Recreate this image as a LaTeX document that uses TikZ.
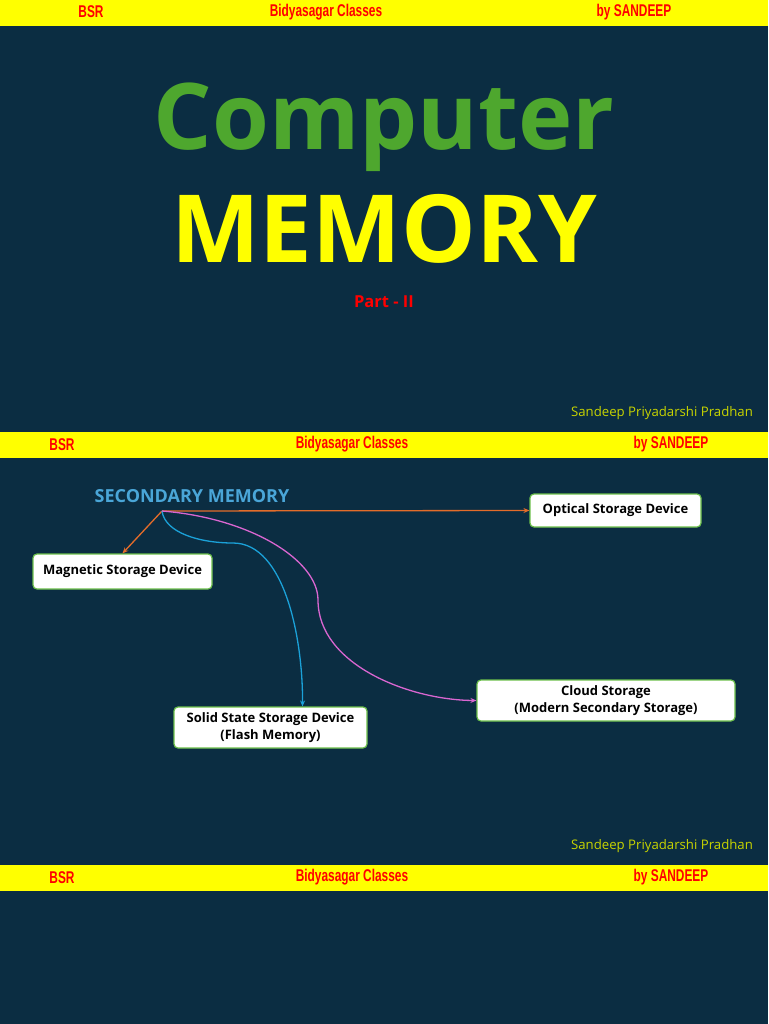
\documentclass[tikz,border=0pt]{standalone}
\usepackage{fontspec}
\setmainfont{Open Sans}
\newfontfamily\condfont[FakeStretch=0.70]{Liberation Sans}
\newfontfamily\plainsans{Open Sans}
\usetikzlibrary{arrows.meta,calc}
\definecolor{bgnavy}{HTML}{0B2D42}
\definecolor{barYellow}{HTML}{FFFF00}
\definecolor{hdrRed}{HTML}{FF0000}
\definecolor{titleGreen}{HTML}{4EA72E}
\definecolor{secBlue}{HTML}{4AA6D8}
\definecolor{boxGreen}{HTML}{6CC04A}
\definecolor{lineOrange}{HTML}{E46C2A}
\definecolor{lineBlue}{HTML}{1BA1D8}
\definecolor{lineMag}{HTML}{D966D0}
\definecolor{authorYellow}{HTML}{C8D400}
\tikzset{
  bar/.style={fill=barYellow, draw=none},
  hdr/.style={text=hdrRed, font=\condfont\bfseries\fontsize{17}{17}\selectfont, inner sep=0pt, anchor=center},
  author/.style={text=authorYellow, font=\plainsans\fontsize{13.2}{13.2}\selectfont, inner sep=0pt},
  membox/.style={draw=boxGreen, line width=1.2pt, fill=white, rounded corners=4pt, align=center,
    font=\bfseries\fontsize{13}{16.5}\selectfont, text=black, inner sep=0pt},
  conn/.style={line width=1.3pt, -{Stealth[length=6pt,width=5pt]}}
}
\begin{document}
\begin{tikzpicture}[x=1pt,y=-1pt]
\fill[bgnavy] (0,0) rectangle (768,1024);
\useasboundingbox (0,0) rectangle (768,1024);
% bars
\fill[bar] (0,0) rectangle (768,26);
\fill[bar] (0,432) rectangle (768,458);
\fill[bar] (0,865) rectangle (768,891);
% header texts
\node[hdr] (h1a) at (91,12) {BSR};
\node[hdr] (h1b) at (326,12) {Bidyasagar Classes};
\node[hdr] (h1c) at (634,12) {by SANDEEP};
\node[hdr] (h2a) at (62,444.5) {BSR};
\node[hdr] (h2b) at (352,444.5) {Bidyasagar Classes};
\node[hdr] (h2c) at (671,444.5) {by SANDEEP};
\node[hdr] (h3a) at (62,877.5) {BSR};
\node[hdr] (h3b) at (352,877.5) {Bidyasagar Classes};
\node[hdr] (h3c) at (671,877.5) {by SANDEEP};
% title slide
\node[text=titleGreen, font=\bfseries\fontsize{92}{92}\selectfont, inner sep=0pt] (comp) at (384,127) {Computer};
\node[text=barYellow, font=\bfseries\fontsize{94}{94}\selectfont, inner sep=0pt] (mem) at (384,229) {MEMORY};
\node[text=hdrRed, font=\bfseries\fontsize{16.5}{16.5}\selectfont, inner sep=0pt] (part) at (384,302) {Part - II};
\node[author] (auth1) at (662,413) {Sandeep Priyadarshi Pradhan};
\node[author] (auth2) at (662,846) {Sandeep Priyadarshi Pradhan};
% diagram
\node[text=secBlue, font=\bfseries\fontsize{18}{18}\selectfont, inner sep=0pt] (sec) at (192,496) {SECONDARY MEMORY};
\coordinate (o) at (162,511);
\node[membox, minimum width=171pt, minimum height=33pt] (opt) at (615.5,510.5) {Optical Storage Device};
\node[membox, minimum width=179pt, minimum height=35pt] (mag) at (122.5,571.5) {Magnetic Storage Device};
\node[membox, minimum width=193pt, minimum height=41pt] (ssd) at (270.5,727.5) {Solid State Storage Device\\(Flash Memory)};
\node[membox, minimum width=258pt, minimum height=41pt] (cloud) at (606,700.5) {Cloud Storage\\(Modern Secondary Storage)};
\draw[conn, lineOrange] (o) -- (opt.west);
\draw[conn, lineOrange] (o) -- (mag.north);
\draw[conn, lineBlue] (o) .. controls (165,533) and (200,543) .. (233,543)
   .. controls (285,543) and (303,640) .. ($(ssd.north)+(32,0)$);
\draw[conn, lineMag] (o) .. controls (250,518) and (318,560) .. (318,600)
   .. controls (318,665) and (410,700) .. (cloud.west);
\end{tikzpicture}
\end{document}
